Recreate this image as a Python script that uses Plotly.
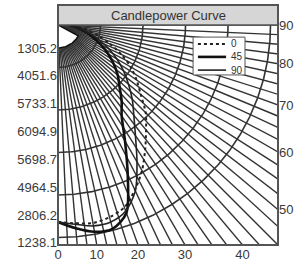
import numpy as np
import plotly.graph_objects as go

# ---------------- data ----------------
series_names = ["0", "45", "90"]
angles_deg = [0, 5, 10, 15, 20, 25, 30, 35, 40, 45, 50, 55, 60, 65, 70, 75, 80, 85, 90]
cd_0 = [4635, 4682, 4729, 4682, 4565, 4282, 3953, 3576, 3224, 2918, 2541, 2259, 1976, 1647, 1294, 988, 706, 471, 282]
cd_45 = [4635, 4800, 4941, 4965, 4706, 3882, 3153, 2612, 2329, 2047, 1835, 1600, 1365, 1129, 894, 706, 518, 376, 282]
cd_90 = [4635, 4706, 4800, 4800, 4659, 4306, 3718, 3176, 2776, 2471, 2165, 1882, 1600, 1318, 1035, 776, 565, 400, 282]

left_tick_labels = ["1305.2", "4051.6", "5733.1", "6094.9", "5698.7", "4964.5", "2806.2", "1238.1"]
bottom_tick_angles = [0, 10, 20, 30, 40]
right_tick_angles = [90, 80, 70, 60, 50]
ring_values = [1000, 2000, 3000, 4000, 5000]
spoke_step_deg = 2.5
beam_wedge_angle = 62
beam_wedge_cd = 540
chart_title = "Candlepower Curve"

R = 5176.0  # candela shown across the square plot

# ---------------- helpers ----------------
def to_xy(theta_deg, r):
    t = np.radians(np.asarray(theta_deg, dtype=float))
    r = np.asarray(r, dtype=float)
    return r * np.sin(t), -r * np.cos(t)

fig = go.Figure()

grid_color = "#333333"

# radial spokes
sx, sy = [], []
for a in np.arange(0, 90 + 1e-9, spoke_step_deg):
    x1, y1 = to_xy(a, 2.2 * R)
    sx += [0, float(x1), None]
    sy += [0, float(y1), None]
fig.add_trace(go.Scatter(x=sx, y=sy, mode="lines", line=dict(color=grid_color, width=1.4),
                         hoverinfo="skip", showlegend=False))

# rings
rx, ry = [], []
th = np.linspace(0, 90, 181)
for rv in ring_values:
    x, y = to_xy(th, np.full_like(th, rv))
    rx += list(x) + [None]
    ry += list(y) + [None]
fig.add_trace(go.Scatter(x=rx, y=ry, mode="lines", line=dict(color=grid_color, width=1.6),
                         hoverinfo="skip", showlegend=False))

# beam wedge
wt = np.linspace(0, beam_wedge_angle, 40)
wx, wy = to_xy(wt, np.full_like(wt, beam_wedge_cd))
fig.add_trace(go.Scatter(x=[0] + list(wx) + [0], y=[0] + list(wy) + [0], mode="lines",
                         fill="toself", fillcolor="white", line=dict(color="#111", width=1.5),
                         hoverinfo="skip", showlegend=False))

styles = {
    "0": dict(color="#222", width=2, dash="dot"),
    "45": dict(color="#111", width=2.6, dash="solid"),
    "90": dict(color="#222", width=1.6, dash="solid"),
}
for name, vals in zip(series_names, [cd_0, cd_45, cd_90]):
    x, y = to_xy(angles_deg, vals)
    fig.add_trace(go.Scatter(x=x, y=y, mode="lines", name=name,
                             line=dict(shape="spline", smoothing=0.8, **styles[name]),
                             showlegend=False))

# dummy on right axis
fig.add_trace(go.Scatter(x=[None], y=[None], yaxis="y2", showlegend=False, hoverinfo="skip"))

font_family = "Liberation Sans, Arial, sans-serif"
tick_font = dict(family=font_family, size=13, color="#3a3a3a")

left_pos = -np.linspace(0.105, 0.99, len(left_tick_labels)) * R
bottom_pos = R * np.tan(np.radians(bottom_tick_angles))
right_pos = -R / np.tan(np.radians(right_tick_angles))

bar_h = 20 / 220.0

fig.update_layout(
    width=300, height=267,
    margin=dict(l=58, r=22, t=25, b=22, autoexpand=False),
    paper_bgcolor="white", plot_bgcolor="white",
    showlegend=False,
    xaxis=dict(range=[0, R], showgrid=False, zeroline=False, showline=False, ticks="",
               tickmode="array", tickvals=list(bottom_pos), ticktext=[str(a) for a in bottom_tick_angles],
               tickfont=tick_font, fixedrange=True),
    yaxis=dict(range=[-R, 0], showgrid=False, zeroline=False, showline=False, ticks="",
               tickmode="array", tickvals=list(left_pos), ticktext=left_tick_labels,
               tickfont=tick_font, fixedrange=True),
    yaxis2=dict(range=[-R, 0], overlaying="y", side="right", showgrid=False, zeroline=False,
                showline=False, ticks="", tickmode="array", tickvals=list(right_pos),
                ticktext=[str(a) for a in right_tick_angles], tickfont=tick_font, fixedrange=True),
    shapes=[
        dict(type="rect", xref="paper", yref="paper", x0=0, x1=1, y0=1, y1=1 + bar_h,
             fillcolor="#d6d6d6", line=dict(color="#555", width=1.5), layer="above"),
        dict(type="rect", xref="paper", yref="paper", x0=0, x1=1, y0=0, y1=1 + bar_h,
             line=dict(color="#555", width=2), layer="above"),
        # legend box
        dict(type="rect", xref="paper", yref="paper", x0=0.614, x1=0.85, y0=0.773, y1=0.945,
             fillcolor="white", line=dict(color="#555", width=1), layer="above"),
    ],
    annotations=[
        dict(text=chart_title, xref="paper", yref="paper", x=0.5, y=1 + bar_h / 2,
             showarrow=False, font=dict(family=font_family, size=13, color="#333"),
             xanchor="center", yanchor="middle"),
    ],
)

# manual legend entries
leg_y = [0.914, 0.855, 0.795]
for name, yy in zip(series_names, leg_y):
    st = styles[name]
    fig.add_shape(type="line", xref="paper", yref="paper", x0=0.636, x1=0.764, y0=yy, y1=yy,
                  line=dict(color=st["color"], width=st["width"], dash=st["dash"]), layer="above")
    fig.add_annotation(text=name, xref="paper", yref="paper", x=0.775, y=yy, xanchor="left",
                       yanchor="middle", showarrow=False,
                       font=dict(family=font_family, size=10, color="#333"))

fig.write_html("out.html", config={"displayModeBar": False},
               post_script="document.body.style.margin='0px';")
